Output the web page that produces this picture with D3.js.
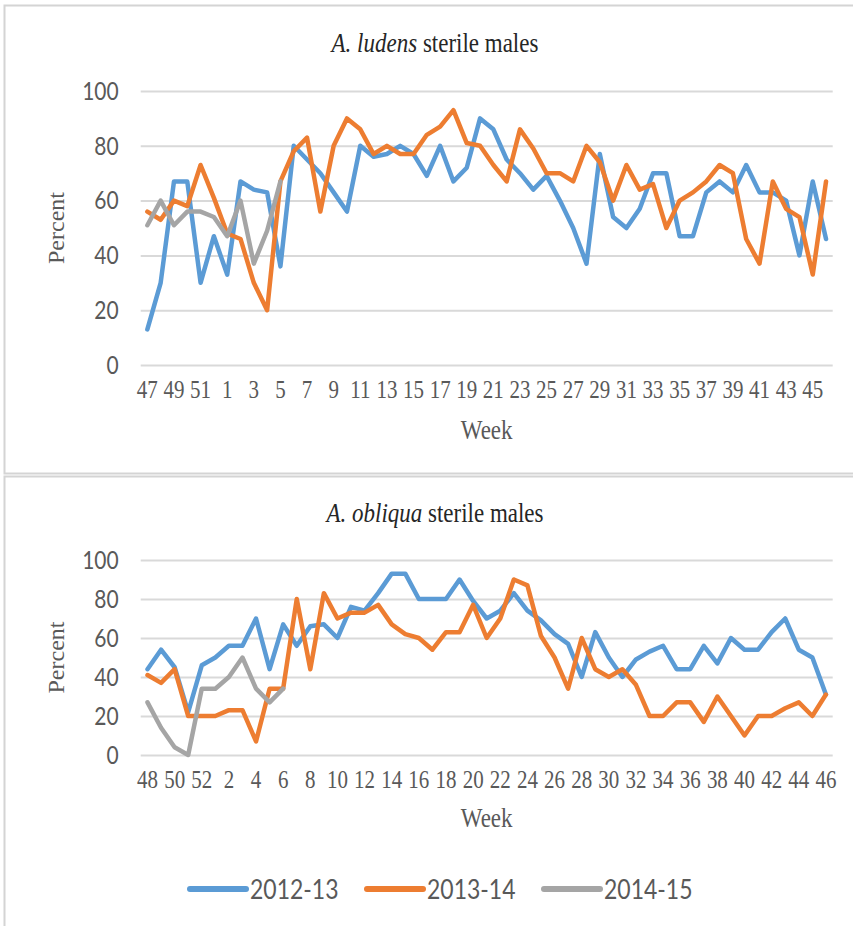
<!DOCTYPE html>
<html>
<head>
<meta charset="utf-8">
<script src="https://cdn.jsdelivr.net/npm/d3@7"></script>
<style>
  html, body { margin: 0; padding: 0; background: #fff; }
  svg { display: block; }
  svg text.st { transform-box: fill-box; transform-origin: center; transform: scaleY(1.18); }
</style>
</head>
<body>
<svg id="chart" width="853" height="926"></svg>
<script>
// ---------- data ----------
const seriesNames = ["2012-13", "2013-14", "2014-15"];
const seriesColors = ["#5B9BD5", "#ED7D31", "#A5A5A5"];
const yTicks = [0, 20, 40, 60, 80, 100];

// Panel 1: A. ludens
const ludensWeeks = [47, 48, 49, 50, 51, 52, 1, 2, 3, 4, 5, 6, 7, 8, 9, 10, 11, 12, 13, 14, 15, 16, 17, 18, 19, 20,
  21, 22, 23, 24, 25, 26, 27, 28, 29, 30, 31, 32, 33, 34, 35, 36, 37, 38, 39, 40, 41, 42, 43, 44, 45, 46];
const ludensTickLabels = [47, 49, 51, 1, 3, 5, 7, 9, 11, 13, 15, 17, 19, 21, 23, 25, 27, 29, 31, 33, 35, 37, 39, 41, 43, 45];
const ludens2012 = [13, 30, 67, 67, 30, 47, 33, 67, 64, 63, 36, 80, 75, 70, 63, 56, 80, 76, 77, 80, 77, 69, 80, 67, 72, 90,
  86, 75, 70, 64, 69, 60, 50, 37, 77, 54, 50, 57, 70, 70, 47, 47, 63, 67, 63, 73, 63, 63, 60, 40, 67, 46];
const ludens2013 = [56, 53, 60, 58, 73, 61, 48, 46, 30, 20, 67, 78, 83, 56, 80, 90, 86, 77, 80, 77, 77, 84, 87, 93, 81, 80,
  73, 67, 86, 79, 70, 70, 67, 80, 74, 60, 73, 64, 66, 50, 60, 63, 67, 73, 70, 46, 37, 67, 57, 54, 33, 67];
const ludens2014 = [51, 60, 51, 56, 56, 54, 47, 60, 37, 49, 67];

// Panel 2: A. obliqua
const obliquaWeeks = [48, 49, 50, 51, 52, 1, 2, 3, 4, 5, 6, 7, 8, 9, 10, 11, 12, 13, 14, 15, 16, 17, 18, 19, 20,
  21, 22, 23, 24, 25, 26, 27, 28, 29, 30, 31, 32, 33, 34, 35, 36, 37, 38, 39, 40, 41, 42, 43, 44, 45, 46];
const obliquaTickLabels = [48, 50, 52, 2, 4, 6, 8, 10, 12, 14, 16, 18, 20, 22, 24, 26, 28, 30, 32, 34, 36, 38, 40, 42, 44, 46];
const obliqua2012 = [44, 54, 45, 22, 46, 50, 56, 56, 70, 44, 67, 56, 66, 67, 60, 76, 74, 83, 93, 93, 80, 80, 80, 90, 79,
  70, 74, 83, 74, 69, 62, 57, 40, 63, 50, 40, 49, 53, 56, 44, 44, 56, 47, 60, 54, 54, 63, 70, 54, 50, 31];
const obliqua2013 = [41, 37, 44, 20, 20, 20, 23, 23, 7, 34, 34, 80, 44, 83, 70, 73, 73, 77, 67, 62, 60, 54, 63, 63, 77,
  60, 70, 90, 87, 61, 50, 34, 60, 44, 40, 44, 36, 20, 20, 27, 27, 17, 30, 20, 10, 20, 20, 24, 27, 20, 31];
const obliqua2014 = [27, 14, 4, 0, 34, 34, 40, 50, 34, 27, 34];

// ---------- drawing ----------
const svg = d3.select("#chart");
const serif = "'Liberation Serif', 'Times New Roman', serif";
const sans = "Lato, 'Liberation Sans', sans-serif";

// panel frames
svg.append("rect").attr("x", 4.5).attr("y", 5.5).attr("width", 880).attr("height", 468)
  .attr("fill", "none").attr("stroke", "#d4d4d4").attr("stroke-width", 2);
svg.append("rect").attr("x", 4.5).attr("y", 476.5).attr("width", 880).attr("height", 470)
  .attr("fill", "none").attr("stroke", "#d4d4d4").attr("stroke-width", 2);

function drawPanel(cfg) {
  const g = svg.append("g");
  const x = d3.scaleBand().domain(cfg.weeks).range([140.7, 832.7]).padding(0);
  const y = d3.scaleLinear().domain([0, 100]).range([cfg.y0, cfg.y100]);
  const cx = w => x(w) + x.bandwidth() / 2;

  // gridlines + y labels
  const yAxis = d3.axisLeft(y).tickValues(yTicks).tickSize(-(832.7 - 140.7)).tickPadding(22);
  const ga = g.append("g").attr("transform", "translate(140.7,0)").call(yAxis);
  ga.select(".domain").remove();
  ga.selectAll(".tick line").attr("stroke", "#d9d9d9").attr("stroke-width", 2);
  ga.selectAll(".tick text").attr("class", "st").attr("fill", "#595959")
    .style("font-family", sans).style("font-size", "21px");

  // x labels
  const xAxis = d3.axisBottom(x).tickValues(cfg.ticks).tickSize(0).tickPadding(17);
  const gx = g.append("g").attr("transform", `translate(0,${cfg.y0})`).call(xAxis);
  gx.select(".domain").remove();
  gx.selectAll(".tick text").attr("class", "st").attr("fill", "#595959")
    .style("font-family", serif).style("font-size", "21px");

  // lines
  const line = d3.line().defined(d => d.v != null).x(d => cx(d.w)).y(d => y(d.v));
  cfg.series.forEach((vals, k) => {
    const pts = vals.map((v, i) => ({ w: cfg.weeks[i], v }));
    g.append("path").datum(pts).attr("d", line).attr("fill", "none")
      .attr("stroke", seriesColors[k]).attr("stroke-width", 4.5)
      .attr("stroke-linejoin", "round").attr("stroke-linecap", "round");
  });

  // title
  const t = g.append("text").attr("class", "st").attr("x", 435).attr("y", cfg.titleY).attr("text-anchor", "middle")
    .style("font-family", serif).style("font-size", "23px").attr("fill", "#262626");
  t.append("tspan").style("font-style", "italic").text(cfg.species);
  t.append("tspan").text(cfg.rest);

  // axis titles
  g.append("text").attr("class", "st").attr("x", 486.7).attr("y", cfg.weekY).attr("text-anchor", "middle")
    .style("font-family", serif).style("font-size", "23px").attr("fill", "#595959").text("Week");
  g.append("text").attr("transform", `translate(64,${(cfg.y0 + cfg.y100) / 2}) rotate(-90)`)
    .attr("text-anchor", "middle").style("font-family", serif).style("font-size", "24px")
    .attr("fill", "#595959").text("Percent");
}

drawPanel({
  weeks: ludensWeeks, ticks: ludensTickLabels, series: [ludens2012, ludens2013, ludens2014],
  y0: 365, y100: 91, titleY: 51, weekY: 438, species: "A. ludens", rest: " sterile  males"
});
drawPanel({
  weeks: obliquaWeeks, ticks: obliquaTickLabels, series: [obliqua2012, obliqua2013, obliqua2014],
  y0: 755, y100: 560, titleY: 521, weekY: 826, species: "A. obliqua", rest: " sterile males"
});

// legend
const legendX = [190, 367, 544];
const lg = svg.append("g");
seriesNames.forEach((name, k) => {
  lg.append("line").attr("x1", legendX[k]).attr("x2", legendX[k] + 56).attr("y1", 889).attr("y2", 889)
    .attr("stroke", seriesColors[k]).attr("stroke-width", 6).attr("stroke-linecap", "round");
  lg.append("text").attr("class", "st").attr("x", legendX[k] + 60).attr("y", 897).style("font-family", sans)
    .style("font-size", "23px").attr("fill", "#595959").text(name);
});
</script>
</body>
</html>
